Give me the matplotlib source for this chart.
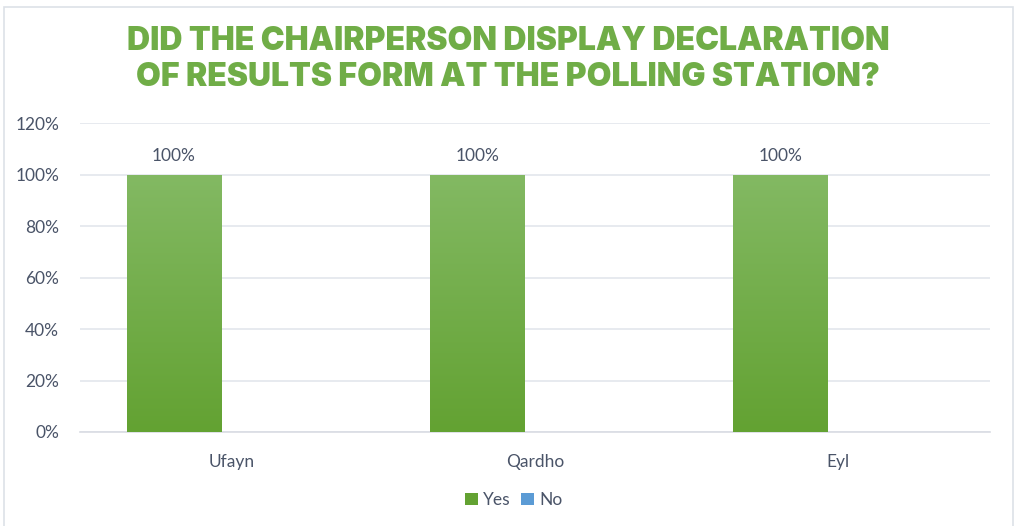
import numpy as np
import matplotlib.pyplot as plt
from matplotlib.colors import LinearSegmentedColormap
from matplotlib.patches import Rectangle

# Chart data
categories = ["Ufayn", "Qardho", "Eyl"]
yes_pct = [100, 100, 100]
no_pct = [0, 0, 0]
y_ticks = [0, 20, 40, 60, 80, 100, 120]

title = "DID THE CHAIRPERSON DISPLAY DECLARATION\nOF RESULTS FORM AT THE POLLING STATION?"

text_color = "#4a5468"
grid_color = "#e3e6ec"
yes_top, yes_bottom = "#83b963", "#63a232"
no_color = "#5b9bd5"

plt.rcParams["font.family"] = ["Lato", "DejaVu Sans"]

fig = plt.figure(figsize=(10.17, 5.26), dpi=100)
ax = fig.add_axes([80 / 1017, 94 / 526, 910 / 1017, 309 / 526])

# outer chart frame
fig.add_artist(Rectangle((4 / 1017, -0.05), 1009 / 1017, (526 - 7) / 526 + 0.05,
                         transform=fig.transFigure, fill=False,
                         edgecolor="#dde1e8", linewidth=1.2))

x = np.arange(len(categories))
width = 0.313
offset = -0.19

yes_bars = ax.bar(x + offset, yes_pct, width, color=yes_bottom, label="Yes", zorder=2)
ax.bar(x - offset, no_pct, width, color=no_color, label="No", zorder=2)

# vertical gradient fill on the Yes bars
cmap = LinearSegmentedColormap.from_list("yesgrad", [yes_bottom, yes_top])
grad = np.linspace(0, 1, 256).reshape(-1, 1)
for bar in yes_bars:
    bx, by = bar.get_x(), bar.get_y()
    bw, bh = bar.get_width(), bar.get_height()
    im = ax.imshow(grad, cmap=cmap, origin="lower", aspect="auto",
                   extent=[bx, bx + bw, by, by + bh], zorder=3)
    im.set_clip_path(bar)

for xi, v in zip(x + offset, yes_pct):
    ax.text(xi, v + 4, f"{v}%", ha="center", va="bottom",
            fontsize=12.5, color=text_color)

ax.set_xlim(-0.5, len(categories) - 0.5)
ax.set_ylim(0, 120)
ax.set_yticks(y_ticks)
ax.set_yticklabels([f"{t}%" for t in y_ticks])
ax.set_xticks(x)
ax.set_xticklabels(categories)
ax.tick_params(axis="both", length=0, labelsize=12.5, colors=text_color)
ax.tick_params(axis="y", pad=15)
ax.tick_params(axis="x", pad=16)
ax.grid(axis="y", color=grid_color, linewidth=1.2, zorder=0)
ax.set_axisbelow(True)
for s in ["top", "right", "left"]:
    ax.spines[s].set_visible(False)
ax.spines["bottom"].set_color("#d9dce3")
ax.spines["bottom"].set_linewidth(1.2)

fig.text(0.5, 0.887, title, ha="center", va="center", fontsize=23,
         fontweight="black", color="#70ad47", family=["Inter", "DejaVu Sans"],
         linespacing=1.22)

ax.legend(loc="center", bbox_to_anchor=(0.477, -0.22), ncol=2, frameon=False,
          fontsize=12.5, labelcolor=text_color, handlelength=0.75, handleheight=0.75,
          handletextpad=0.3, columnspacing=0.6)

fig.savefig("out.png", dpi=100)
